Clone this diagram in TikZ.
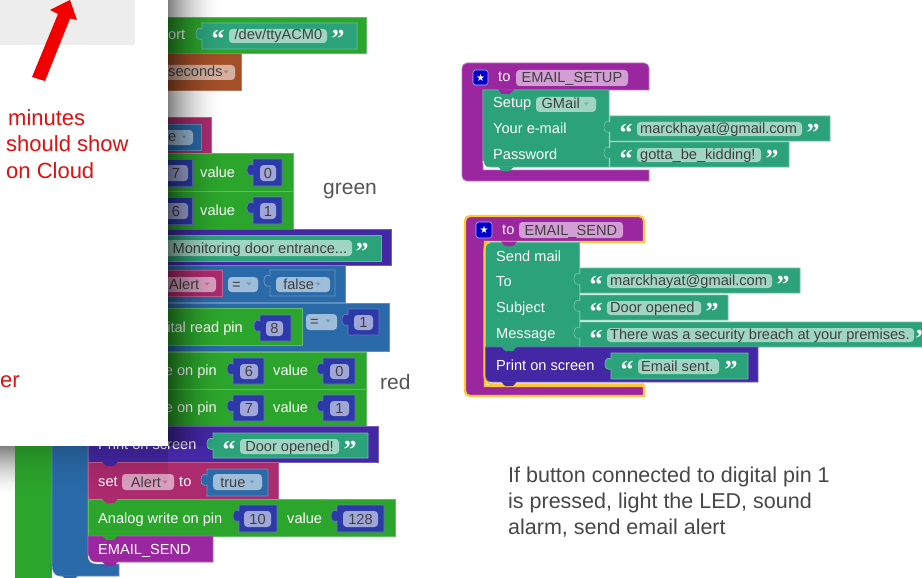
\documentclass[tikz,border=0pt]{standalone}
\usepackage{fontspec}
\setmainfont{Liberation Sans}
\newfontfamily\qfont{Liberation Serif}
\newfontfamily\symfont{DejaVu Sans}
\usetikzlibrary{calc}
\definecolor{cgreen}{HTML}{2CA52C}
\definecolor{cteal}{HTML}{2CA27A}
\definecolor{cnum}{HTML}{2B3AA8}
\definecolor{cindigo}{HTML}{4427A5}
\definecolor{cmag}{HTML}{AC2A6E}
\definecolor{cblue}{HTML}{2A6AA8}
\definecolor{cbrown}{HTML}{A34F28}
\definecolor{cproc}{HTML}{9A27A0}
\definecolor{cyell}{HTML}{FFC637}
\definecolor{cred}{HTML}{E01010}
\definecolor{cgray}{HTML}{555555}
\newcount\nn
\tikzset{
  autoid/.code={\global\advance\nn by 1 \edef\tmpid{n\the\nn}\tikzset{name/.expand once=\tmpid}},
  lbl/.style={autoid,anchor=base west,inner sep=0pt,text=white,font=\fontsize{14.6}{16}\selectfont},
  lble/.style={autoid,anchor=base east,inner sep=0pt,text=white,font=\fontsize{14.6}{16}\selectfont},
  fldtxt/.style={autoid,anchor=base,inner sep=0pt,text=black!75,font=\fontsize{14.6}{16}\selectfont},
  fldtxtl/.style={autoid,anchor=base west,inner sep=0pt,text=black!75,font=\fontsize{14.6}{16}\selectfont},
  quot/.style={autoid,anchor=base,inner sep=0pt,text=white,font=\qfont\bfseries\fontsize{26}{26}\selectfont},
  redtxt/.style={autoid,anchor=base west,inner sep=0pt,text=cred,font=\fontsize{22}{24}\selectfont},
  graytxt/.style={autoid,anchor=base west,inner sep=0pt,text=cgray,font=\fontsize{21}{24}\selectfont},
  note/.style={autoid,anchor=base west,inner sep=0pt,text=black!72,font=\fontsize{21.5}{24}\selectfont},
}
\newcommand\blk[5]{\path[fill=#1,draw=#1!75!white,line width=.7pt] (#2,#3) rectangle (#4,#5);}
\newcommand\tabblk[5]{\path[fill=#1,draw=#1!70!white,line width=.7pt] (#2,#3) -- (#4,#3) -- (#4,#5) -- (#2,#5) -- ({#2},{#3+16}) .. controls ({#2-3},{#3+17}) and ({#2-6},{#3+16}) .. ({#2-6},{#3+11}) .. controls ({#2-6},{#3+6}) and ({#2-3},{#3+4}) .. ({#2},{#3+6}) -- cycle;}
\newcommand\notch[3]{\fill[#1] ({#2-8},{#3-.5}) -- ({#2-4},{#3+4}) -- ({#2+4},{#3+4}) -- ({#2+8},{#3-.5}) -- cycle;}
\newcommand\fldbox[5]{\fill[#1!45!white,rounded corners=3.5pt] (#2,#3) rectangle (#4,#5);}
\newcommand\fldc[6]{\fldbox{#1}{#2}{#3}{#4}{#5}\node[fldtxt] at ({(#2+#4)/2},{#5-3}) {#6};}
\newcommand\fldl[6]{\fldbox{#1}{#2}{#3}{#4}{#5}\node[fldtxtl] at ({#2+3},{#5-3}) {#6};}
\newcommand\dd[3][white]{\fill[#1] ({#2-2.5},{#3-1.5}) -- ({#2+2.5},{#3-1.5}) -- (#2,{#3+1.5}) -- cycle;}
\newcommand\txt[3]{\node[lbl] at (#1,{#2+5}) {#3};}
\newcommand\txte[3]{\node[lble] at (#1,{#2+5}) {#3};}
\newcommand\qo[2]{\node[quot] at (#1,{#2+13}) {“};}
\newcommand\qc[2]{\node[quot] at (#1,{#2+13}) {”};}
\newcommand\numsock[7]{\tabblk{cnum}{#1}{#2}{#3}{#4}\pgfmathsetmacro\fa{#2+6}\pgfmathsetmacro\fb{#4-5}\fldc{cnum}{#5}{\fa}{#6}{\fb}{#7}}
\newcommand\strsock[9]{\tabblk{cteal}{#1}{#2}{#3}{#4}\pgfmathsetmacro\fa{#2+6}\pgfmathsetmacro\fb{#4-5}\pgfmathsetmacro\fq{#2+12}\fldl{cteal}{#5}{\fa}{#6}{\fb}{#7}\qo{#8}{\fq}\qc{#9}{\fq}}
\newcommand\startile[4]{\fill[blue!80!black,draw=white!70!blue,line width=.6pt,rounded corners=2.5pt] (#1,#2) rectangle (#3,#4);\node[autoid,inner sep=0pt,text=white,font=\symfont\fontsize{10}{10}\selectfont] at ({(#1+#3)/2},{(#2+#4)/2}) {★};}
\begin{document}
\begin{tikzpicture}[x=1pt,y=-1pt]
\useasboundingbox (0,0) rectangle (922,578);
\fill[white] (0,0) rectangle (922,578);
% ---- left stack ----
\fill[cgreen] (15,440) rectangle (52,578);
\path[fill=cblue,draw=cblue!75!white,line width=.6pt] (52,440) -- (88,440) -- (88,556) .. controls (88,562) and (92,564) .. (96,564) -- (119,564) -- (119,576) -- (60,576) .. controls (54,576) and (52,570) .. (52,564) -- cycle;
\notch{cblue}{70}{576}
\blk{cgreen}{100}{17}{366}{53}
\txt{168}{35}{ort}
\tabblk{cteal}{202}{23}{357}{49}
\fldl{cteal}{229}{29}{327}{43}{\,/dev/ttyACM0}
\qo{218}{35}\qc{338}{35}
\blk{cbrown}{100}{53}{241}{90}
\fldbox{cbrown}{160}{65}{235}{80}
\node[fldtxtl] at (168,77) {seconds};
\dd[cbrown!70!white]{226}{72}
\blk{cmag}{100}{117}{211}{153}
\blk{cblue}{100}{124}{201}{150}
\fldbox{cblue}{150}{130}{193}{145}
\node[fldtxtl] at (168,142) {e};
\dd[cblue!70!white]{184}{137}
% write pin 7 value 0
\blk{cgreen}{100}{153}{293}{191}
\blk{cnum}{100}{159}{192}{186}
\fldbox{cnum}{150}{165}{188}{181}
\node[fldtxt] at (176,178) {7};
\txt{200}{172}{value}
\numsock{253}{159}{282}{186}{260}{276}{0}
% write pin 6 value 1
\blk{cgreen}{100}{191}{293}{229}
\blk{cnum}{100}{197}{192}{224}
\fldbox{cnum}{150}{203}{188}{219}
\node[fldtxt] at (176,216) {6};
\txt{200}{210}{value}
\numsock{253}{197}{282}{224}{260}{276}{1}
% print
\blk{cindigo}{100}{229}{391}{265}
\blk{cteal}{100}{235}{381}{261}
\fldbox{cteal}{150}{240}{352}{256}
\node[fldtxtl] at (172.5,253) {Monitoring door entrance...};
\qc{362}{247}
% if row 1
\blk{cblue}{52}{265}{345}{302}
\blk{cmag}{100}{270}{222}{296}
\fldbox{cmag}{150}{277}{216}{292}
\node[fldtxtl] at (169,289) {Alert};
\dd[cmag!70!white]{207}{284}
\fldbox{cblue}{228}{277}{258}{292}
\node[fldtxtl] at (232,289) {=};
\dd[cblue!70!white]{249}{284}
\tabblk{cblue}{270}{270}{335}{296}
\fldl{cblue}{276}{277}{330}{292}{\ false}
\dd[cblue!70!white]{318}{284}
% if row 2
\blk{cblue}{52}{303}{389}{351}
\blk{cgreen}{100}{308}{302}{345}
\txte{243}{327}{ital read pin}
\numsock{260}{315}{291}{341}{266}{283}{8}
\fldbox{cblue}{306}{314}{337}{330}
\node[fldtxtl] at (310,326) {=};
\dd[cblue!70!white]{328}{321}
\numsock{348}{309}{379}{335}{354}{373}{1}
% write pins
\blk{cgreen}{88}{352}{366}{389}
\txte{217}{370}{e on pin}
\numsock{233}{358}{264}{384}{240}{258}{6}
\txt{273}{370}{value}
\numsock{323}{358}{355}{384}{330}{349}{0}
\blk{cgreen}{88}{389}{366}{426}
\txte{217}{407}{e on pin}
\numsock{233}{395}{264}{421}{240}{258}{7}
\txt{273}{407}{value}
\numsock{323}{395}{355}{421}{330}{349}{1}
% print door opened
\blk{cindigo}{88}{426}{378}{462}
\txt{98}{444}{Print on screen}
\tabblk{cteal}{213}{433}{368}{458}
\fldc{cteal}{240}{439}{339}{454}{Door opened!}
\qo{229}{445}\qc{350}{445}
% set alert
\blk{cmag}{88}{462}{278}{499}
\txt{98}{481}{set}
\fldc{cmag}{122}{474}{174}{490}{\ Alert\ \ \ }
\dd[cmag!70!white]{165}{482}
\txt{179}{481}{to}
\tabblk{cblue}{207}{469}{268}{496}
\fldl{cblue}{213}{474}{262}{490}{\ true}
\dd[cblue!70!white]{252}{482}
% analog
\blk{cgreen}{88}{499}{395}{536}
\txt{98}{518}{Analog write on pin}
\numsock{239}{505}{277}{532}{244}{271}{10}
\txt{287}{518}{value}
\numsock{337}{505}{384}{532}{343}{378}{128}
% email send call
\path[fill=cproc,draw=cproc!75!white,line width=.7pt] (88,536) -- (213,536) -- (213,562) -- (96,562) .. controls (91,562) and (88,558) .. (88,553) -- cycle;
\txt{98}{549}{EMAIL\_SEND}
\draw[white,line width=1pt] (88.5,556) .. controls (89,561) and (92,563) .. (97,563) -- (108,563);
\notch{cproc}{110}{562}
\notch{cgreen}{110}{536}
\notch{cmag}{110}{499}
\notch{cindigo}{110}{462}
% shadow of the panel
\foreach \i in {0,...,56}{
  \pgfmathsetmacro\op{.5*(1-\i/57)^2}
  \fill[black,opacity=\op] ({168+\i},0) rectangle ({169+\i},446);
}
\foreach \i in {0,...,50}{
  \pgfmathsetmacro\op{.5*(1-\i/51)^1.7}
  \fill[black,opacity=\op] (0,{446+\i}) rectangle (15,{447+\i});
  \pgfmathsetmacro\opb{.18*(1-\i/51)^2}
  \fill[black,opacity=\opb] (15,{446+\i}) rectangle (168,{447+\i});
}
% ---- panel ----
\fill[white] (-1,-1) rectangle (168,446);
\fill[black!7] (-1,-1) rectangle (135,45.5);
\fill[red!95!black] (70,0) -- (77,20) -- (70,18.5) -- (45,81) -- (32,77) -- (58,14) -- (50,10) -- cycle;
\node[redtxt] at (8,125.5) {minutes};
\node[redtxt] at (6,151.5) {should show};
\node[redtxt] at (6,178.5) {on Cloud};
\node[redtxt] at (0,387.5) {er};
% ---- side labels ----
\node[graytxt] at (323,194) {green};
\node[graytxt] at (380,389) {red};
\node[note] at (508,482) {If button connected to digital pin 1};
\node[note] at (508,508) {is pressed, light the LED, sound};
\node[note] at (508,534) {alarm, send email alert};
% ---- EMAIL_SETUP ----
\path[fill=cproc,draw=cproc!65!white,line width=.7pt,rounded corners=5pt] (649,181) -- (462,181) -- (462,63) -- (649,63) [sharp corners] -- (649,90) -- (483,90) -- (483,170) -- (649,170) -- cycle;
\startile{473}{70}{488}{85}
\txt{498}{77}{to}
\fldl{cproc}{516}{70}{628}{86}{\,EMAIL\_SETUP}
\path[fill=cteal,draw=cteal!75!white,line width=.7pt] (483,90) -- (609,90) -- (609,167) -- (490,167) .. controls (485,167) and (483,164) .. (483,160) -- cycle;
\draw[white,line width=1pt] (483,161) .. controls (483.5,166) and (486,168.5) .. (491,168.5) -- (500,168.5);
\notch{cproc}{506}{90}
\txt{493}{103}{Setup}
\fldl{cteal}{536}{97}{596}{112}{\,GMail}
\dd[cteal!70!white]{586}{104}
\txt{493}{128}{Your e-mail}
\txt{493}{154}{Password}
\notch{cteal}{506}{167}
\strsock{610}{116}{830}{141}{637}{802}{marckhayat@gmail.com}{626}{813}
\strsock{610}{142}{789}{167}{637}{761}{gotta\_be\_kidding!}{626}{772}
% ---- EMAIL_SEND ----
\path[fill=cproc,draw=cyell,line width=2.2pt,rounded corners=5pt] (644,396) -- (465,396) -- (465,216) -- (644,216) [sharp corners] -- (644,242) -- (485,242) -- (485,386) -- (644,386) -- cycle;
\startile{476}{222}{492}{238}
\txt{502}{229}{to}
\fldl{cproc}{519}{222}{623}{238}{\,EMAIL\_SEND}
\path[fill=cteal,draw=cteal!75!white,line width=.7pt] (485,242) -- (579,242) -- (579,347) -- (485,347) -- cycle;
\draw[cyell,line width=2.2pt] (490,242) .. controls (486,243) and (484.5,245) .. (484.5,250) -- (484.5,375) .. controls (484.5,381) and (488,384.5) .. (494,384.5) -- (644,384.5);
\notch{cproc}{509}{242}
\txt{496}{256}{Send mail}
\txt{496}{281}{To}
\txt{496}{307}{Subject}
\txt{496}{333}{Message}
\strsock{580}{268}{800}{293}{607}{772}{marckhayat@gmail.com}{596}{783}
\strsock{580}{295}{728}{320}{607}{701}{Door opened}{596}{712}
\strsock{580}{322}{925}{347}{607}{914}{There was a security breach at your premises.}{596}{922}
\path[fill=cindigo,draw=cindigo!75!white,line width=.6pt] (485.5,347) -- (758,347) -- (758,382) -- (492,382) .. controls (488,382) and (485.5,380) .. (485.5,375) -- cycle;
\notch{cteal}{509}{347}
\notch{cindigo}{509}{382}
\txt{496}{365}{Print on screen}
\strsock{611}{353}{748}{379}{638}{719}{Email sent.}{627}{731}
\end{tikzpicture}
\end{document}
